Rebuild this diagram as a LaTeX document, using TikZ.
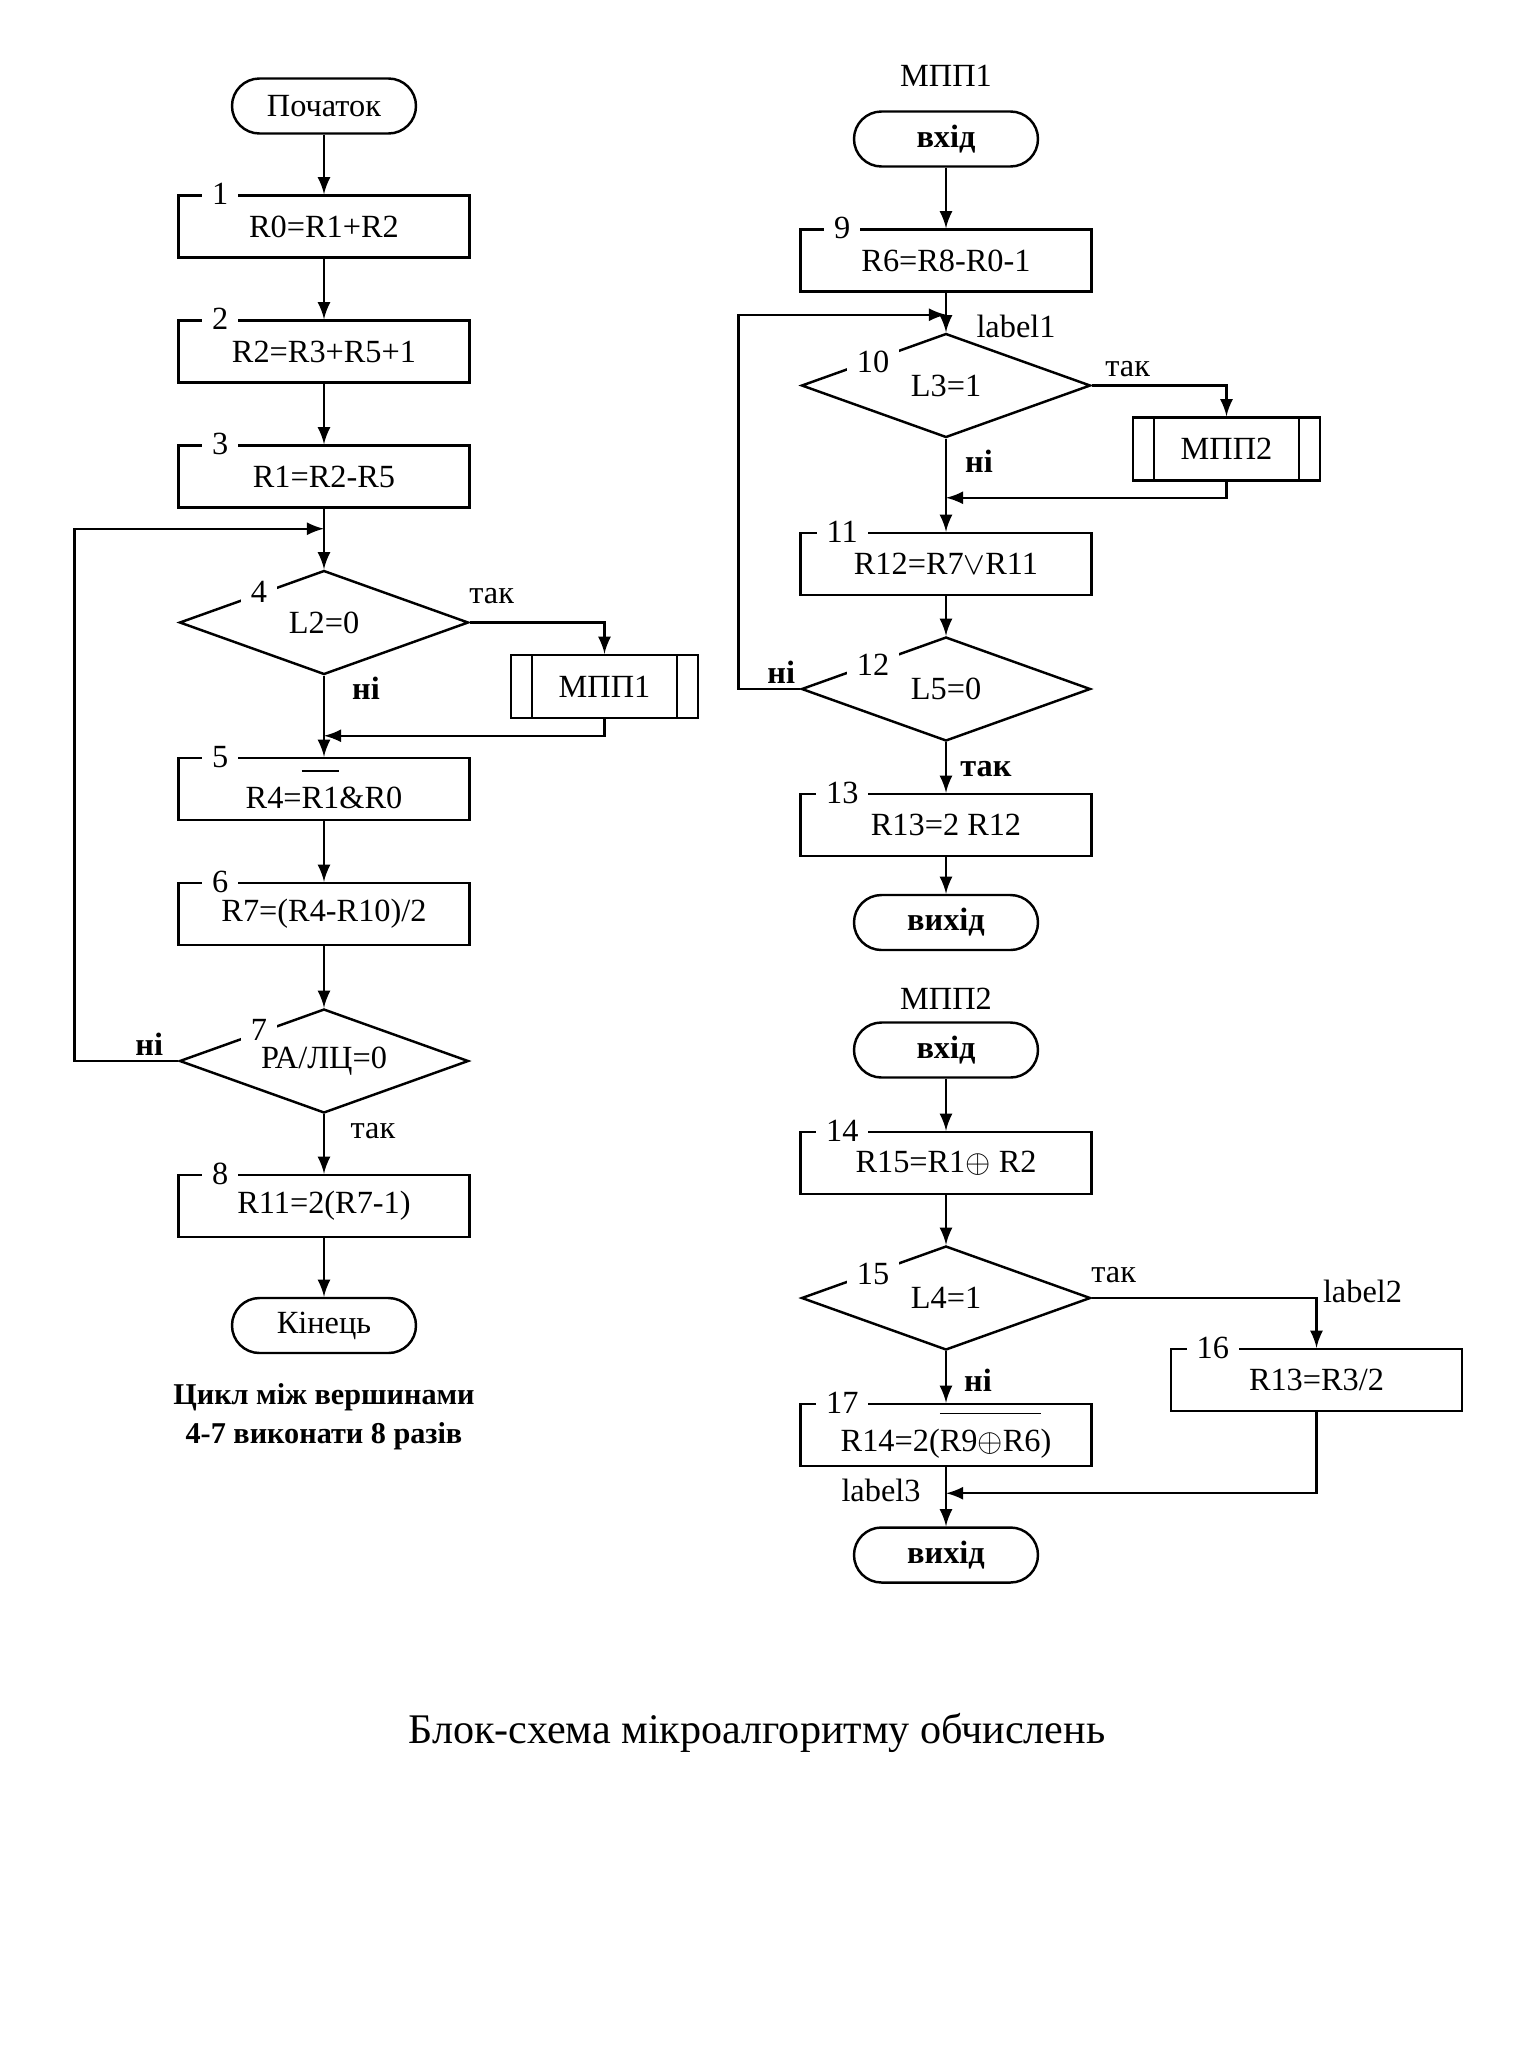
\documentclass[tikz,border=0pt]{standalone}
\usepackage{fontspec}
\setmainfont{Liberation Serif}
\usetikzlibrary{shapes.geometric}
\newcommand{\ovl}[1]{$\overline{\mbox{#1}\rule{0pt}{3.3mm}}$}

\tikzset{
  term/.style={draw, rounded corners=2.75mm, minimum width=18.4mm, minimum height=5.5mm, inner sep=0pt},
  blk/.style={draw, minimum width=29.1mm, minimum height=6.2mm, inner sep=0pt},
  cond/.style={draw, diamond, aspect=2.8, minimum width=28.9mm, minimum height=10.4mm, inner sep=0pt},
  call/.style={draw, minimum width=18.7mm, minimum height=6.3mm, inner sep=0pt,
    path picture={\draw ([xshift=2.1mm]path picture bounding box.north west) -- ([xshift=2.1mm]path picture bounding box.south west)
      ([xshift=-2.1mm]path picture bounding box.north east) -- ([xshift=-2.1mm]path picture bounding box.south east);}},
  num/.style={fill=white, inner xsep=1mm, inner ysep=0.3mm},
  nolbl/.style={font=\bfseries},
}

\begin{document}
\fontsize{9.2}{11}\selectfont
\begin{tikzpicture}[>=latex, line width=0.7pt, node distance=12.5mm]
  \useasboundingbox (0,0) rectangle (152.2mm,-206.6mm);

  %% -- main
  \node[term] (start) at (32.4mm,-10.6mm) {Початок};
  \node[blk] (b1) [below of=start,yshift=0.45mm] {R0=R1+R2};
  \node[blk] (b2) [below of=b1] {R2=R3+R5+1};
  \node[blk] (b3) [below of=b2] {R1=R2-R5};
  \node[cond] (d4) [below of=b3,yshift=-2.1mm] {L2=0};
  \node[call] (c1) [right of=d4,xshift=15.55mm,yshift=-6.4mm] {МПП1};
  \node[blk] (b5) [below of=d4,yshift=-4.15mm] {R4=\ovl{R1}\&R0};
  \node[blk] (b6) [below of=b5] {R7=(R4-R10)/2};
  \node[cond] (d7) [below of=b6,yshift=-2.2mm] {РА/ЛЦ=0};
  \node[blk] (b8) [below of=d7,yshift=-2mm] {R11=2(R7-1)};
  \node[term] (fin) [below of=b8,yshift=0.55mm] {Кінець};
  \node[align=center, font=\fontsize{8.6}{11}\selectfont\bfseries] (note) [below of=fin,yshift=3.35mm] {Цикл між вершинами\\4-7 виконати 8 разів};

  %% -- MPP1
  \node (t1) at (94.6mm,-7.6mm) {МПП1};
  \node[term, font=\bfseries] (in1) at (94.6mm,-13.9mm) {вхід};
  \node[blk] (b9) [below of=in1,yshift=0.35mm] {R6=R8-R0-1};
  \node[cond] (d10) [below of=b9] {L3=1};
  \node[call] (c2) [right of=d10,xshift=15.55mm,yshift=-6.35mm] {МПП2};
  \node[blk] (b11) [below of=d10,yshift=-5.35mm] {R12=R7$\vee$R11};
  \node[cond] (d12) [below of=b11] {L5=0};
  \node[blk] (b13) [below of=d12,yshift=-1.1mm] {R13=2 R12};
  \node[term, font=\bfseries] (out1) [below of=b13,yshift=2.75mm] {вихід};

  %% -- MPP2
  \node (t2) at (94.6mm,-99.9mm) {МПП2};
  \node[term, font=\bfseries] (in2) at (94.6mm,-105mm) {вхід};
  \node[blk] (b14) [below of=in2,yshift=1.2mm] {R15=R1$\oplus$ R2};
  \node[cond] (d15) [below of=b14,yshift=-1mm] {L4=1};
  \node[blk] (b16) [right of=d15,xshift=24.55mm,yshift=-8.2mm] {R13=R3/2};
  \node[blk] (b17) [below of=d15,yshift=-1.2mm] {R14=2(\ovl{R9$\oplus$R6})};
  \node[term, font=\bfseries] (out2) [below of=b17,yshift=0.5mm] {вихід};

  \node[font=\fontsize{12}{14}\selectfont] (title) at (75.7mm,-173.3mm) {Блок-схема мікроалгоритму обчислень};

  %% -- numbers
  \foreach \b/\n in {b1/1,b2/2,b3/3,b5/5,b6/6,b8/8,b9/9,b11/11,b13/13,b14/14,b16/16,b17/17}
    \node[num] (n\n) at ([xshift=4.3mm]\b.north west) {\n};
  \foreach \d/\n in {d4/4,d7/7}
    \node[num] (n\n) at ([xshift=-6.5mm,yshift=3.1mm]\d.center) {\n};
  \foreach \d/\n in {d10/10,d12/12,d15/15}
    \node[num] (n\n) at ([xshift=-7.3mm,yshift=2.4mm]\d.center) {\n};

  %% -- edges
  \coordinate (j4) at ([yshift=-2mm]b3.south);
  \coordinate (j5) at ([yshift=2.1mm]b5.north);
  \draw[->] (start) -- (b1);
  \draw[->] (b1) -- (b2);
  \draw[->] (b2) -- (b3);
  \draw[->] (b3) -- (d4);
  \draw[->] (d4.east) -| (c1.north);
  \draw[->] (d4) -- (b5);
  \draw[->] (c1.south) |- (j5);
  \draw[->] (b5) -- (b6);
  \draw[->] (b6) -- (d7);
  \draw[->] (d7.west) -- ++(-10.4mm,0) |- (j4);
  \draw[->] (d7) -- (b8);
  \draw[->] (b8) -- (fin);
  \node (y4) at ([xshift=2.2mm,yshift=2.6mm]d4.east) {так};
  \node[nolbl] (x4) at ([xshift=4.2mm,yshift=-1.3mm]d4.south) {ні};
  \node[nolbl] (x7) at ([xshift=-2.9mm,yshift=1.7mm]d7.west) {ні};
  \node (y7) at ([xshift=4.9mm,yshift=-1.7mm]d7.south) {так};

  \coordinate (j10) at ([yshift=-2.2mm]b9.south);
  \coordinate (j11) at ([yshift=3.4mm]b11.north);
  \draw[->] (in1) -- (b9);
  \draw[->] (b9) -- (d10);
  \draw[->] (d10.east) -| (c2.north);
  \draw[->] (d10) -- (b11);
  \draw[->] (c2.south) |- (j11);
  \draw[->] (b11) -- (d12);
  \draw[->] (d12.west) -- ++(-6.2mm,0) |- (j10);
  \draw[->] (d12) -- (b13);
  \draw[->] (b13) -- (out1);
  \node (l1) at ([xshift=7mm,yshift=0.6mm]d10.north) {label1};
  \node (y10) at ([xshift=3.6mm,yshift=1.6mm]d10.east) {так};
  \node[nolbl] (x10) at ([xshift=3.3mm,yshift=-2.3mm]d10.south) {ні};
  \node[nolbl] (x12) at ([xshift=-1.9mm,yshift=1.7mm]d12.west) {ні};
  \node[nolbl] (y12) at ([xshift=4mm,yshift=-2.7mm]d12.south) {так};

  \coordinate (j17) at ([yshift=-2.6mm]b17.south);
  \draw[->] (in2) -- (b14);
  \draw[->] (b14) -- (d15);
  \draw[->] (d15.east) -| (b16.north);
  \draw[->] (d15) -- (b17);
  \draw[->] (b16.south) |- (j17);
  \draw[->] (b17) -- (out2);
  \node (y15) at ([xshift=2.2mm,yshift=2.3mm]d15.east) {так};
  \node[nolbl] (x15) at ([xshift=3.2mm,yshift=-2.9mm]d15.south) {ні};
  \node (l2) at ([xshift=4.6mm,yshift=0.7mm]d15.east -| b16.north) {label2};
  \node (l3) at ([xshift=-6.5mm,yshift=0.3mm]j17) {label3};

\end{tikzpicture}
\end{document}
